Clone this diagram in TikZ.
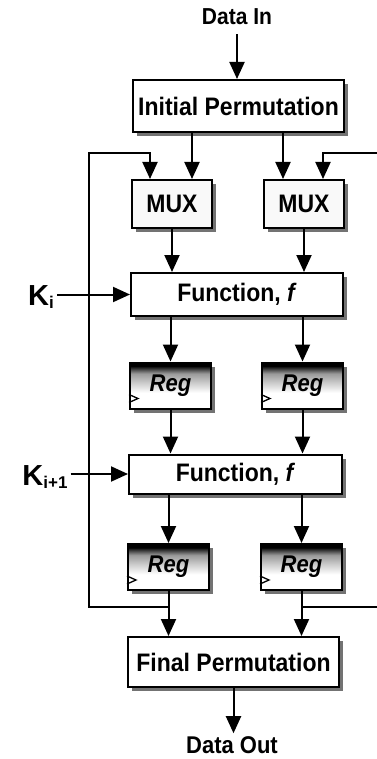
\documentclass[tikz,border=0pt]{standalone}
\usepackage{fontspec}
\usepackage{graphicx}
\setmainfont{Liberation Sans}
\usetikzlibrary{arrows.meta,shadows}

% block captions are set slightly taller than the font's natural shape
\newcommand{\tallcap}[1]{\scalebox{1}[1.1]{#1}}

% register body: thin black strip at the top fading to white
\pgfdeclareverticalshading{regshade}{100bp}{color(0bp)=(white); color(25bp)=(white); color(42bp)=(white); color(53bp)=(gray!40); color(63bp)=(gray!80); color(70bp)=(black!90); color(71bp)=(black); color(100bp)=(black)}

\tikzset{
  lbl/.style={font=\fontsize{21}{23}\selectfont\bfseries, inner sep=0pt},
  blk/.style={draw, line width=2pt, fill=white, inner sep=0pt,
    font=\fontsize{23}{26}\selectfont\bfseries,
    drop shadow={shadow xshift=4pt, shadow yshift=-4pt, fill=black!55, opacity=1}},
  muxbox/.style={blk, fill=gray!5, minimum width=80pt, minimum height=48pt},
  regbox/.style={blk, shading=regshade, minimum width=81pt, minimum height=46pt,
    font=\fontsize{22}{24}\selectfont\bfseries\itshape},
  arr/.style={line width=2pt, -{Triangle[length=17pt,width=15pt]}}
}

\begin{document}
\begin{tikzpicture}[x=1pt,y=-1pt]
\useasboundingbox (0,0) rectangle (376,759);

% labels
\node[lbl] (din) at (237,17) {\tallcap{Data In}};
\node[lbl, font=\fontsize{22}{24}\selectfont\bfseries] (dout) at (232,745) {\tallcap{Data Out}};
\node[lbl, font=\fontsize{29}{30}\selectfont\bfseries] (ki) at (41,297) {K\raisebox{-3pt}{\fontsize{17}{18}\selectfont i}};
\node[lbl, font=\fontsize{29}{30}\selectfont\bfseries] (ki1) at (45,477) {K\raisebox{-3pt}{\fontsize{17}{18}\selectfont i+1}};

% blocks
\node[blk, minimum width=211pt, minimum height=52pt] (ip) at (238.5,106) {\tallcap{Initial Permutation}};
\node[muxbox] (mL) at (172,204) {\tallcap{MUX}};
\node[muxbox] (mR) at (304,204) {\tallcap{MUX}};
\node[blk, minimum width=212pt, minimum height=43pt] (f1) at (237,294.5) {\tallcap{Function, \textit{f}}};
\node[regbox] (r1L) at (170.5,385.5) {\raisebox{3pt}{\tallcap{Reg}}};
\node[regbox] (r1R) at (302.5,385.5) {\raisebox{3pt}{\tallcap{Reg}}};
\node[blk, minimum width=213pt, minimum height=39pt] (f2) at (235.5,474) {\tallcap{Function, \textit{f}}};
\node[regbox] (r2L) at (168.5,567) {\raisebox{3pt}{\tallcap{Reg}}};
\node[regbox] (r2R) at (301.5,567) {\raisebox{3pt}{\tallcap{Reg}}};
\node[blk, minimum width=211pt, minimum height=50pt] (fp) at (233.5,662) {\tallcap{Final Permutation}};

% clock inputs of the registers
\foreach \r in {r1L,r1R,r2L,r2R}{
  \draw[line width=1.3pt] ([yshift=15pt]\r.south west) -- ([xshift=9pt,yshift=11pt]\r.south west) -- ([yshift=7pt]\r.south west);
}

% data path
\draw[arr, shorten <=9pt] (din.south) -- (din.south |- ip.north);
\draw[arr] ([xshift=20pt]mL.north |- ip.south) -- ([xshift=20pt]mL.north);
\draw[arr] ([xshift=-21pt]mR.north |- ip.south) -- ([xshift=-21pt]mR.north);
\draw[arr] (mL.south) -- (mL.south |- f1.north);
\draw[arr] (mR.south) -- (mR.south |- f1.north);
\draw[arr] (r1L.north |- f1.south) -- (r1L.north);
\draw[arr] (r1R.north |- f1.south) -- (r1R.north);
\draw[arr] (r1L.south) -- (r1L.south |- f2.north);
\draw[arr] (r1R.south) -- (r1R.south |- f2.north);
\draw[arr] (r2L.north |- f2.south) -- (r2L.north);
\draw[arr] (r2R.north |- f2.south) -- (r2R.north);
\draw[arr] (r2L.south) -- (r2L.south |- fp.north);
\draw[arr] (r2R.south) -- (r2R.south |- fp.north);
\draw[arr, shorten >=3pt] (fp.south) -- (fp.south |- dout.north);

% round keys
\draw[arr, shorten <=3pt] (ki.east |- f1.west) -- (f1.west);
\draw[arr, shorten <=3pt] (ki1.east |- f2.west) -- (f2.west);

% feedback loops
\coordinate (lt) at (89,153);
\coordinate (lb) at (89,607);
\coordinate (rt) at (380,153);
\coordinate (rb) at (380,607);
\draw[arr] (r2L.south |- lb) -- (lb) -- (lt) -| ([xshift=-22pt]mL.north);
\draw[arr] (r2R.south |- rb) -- (rb) -- (rt) -| ([xshift=19pt]mR.north);
\end{tikzpicture}
\end{document}
